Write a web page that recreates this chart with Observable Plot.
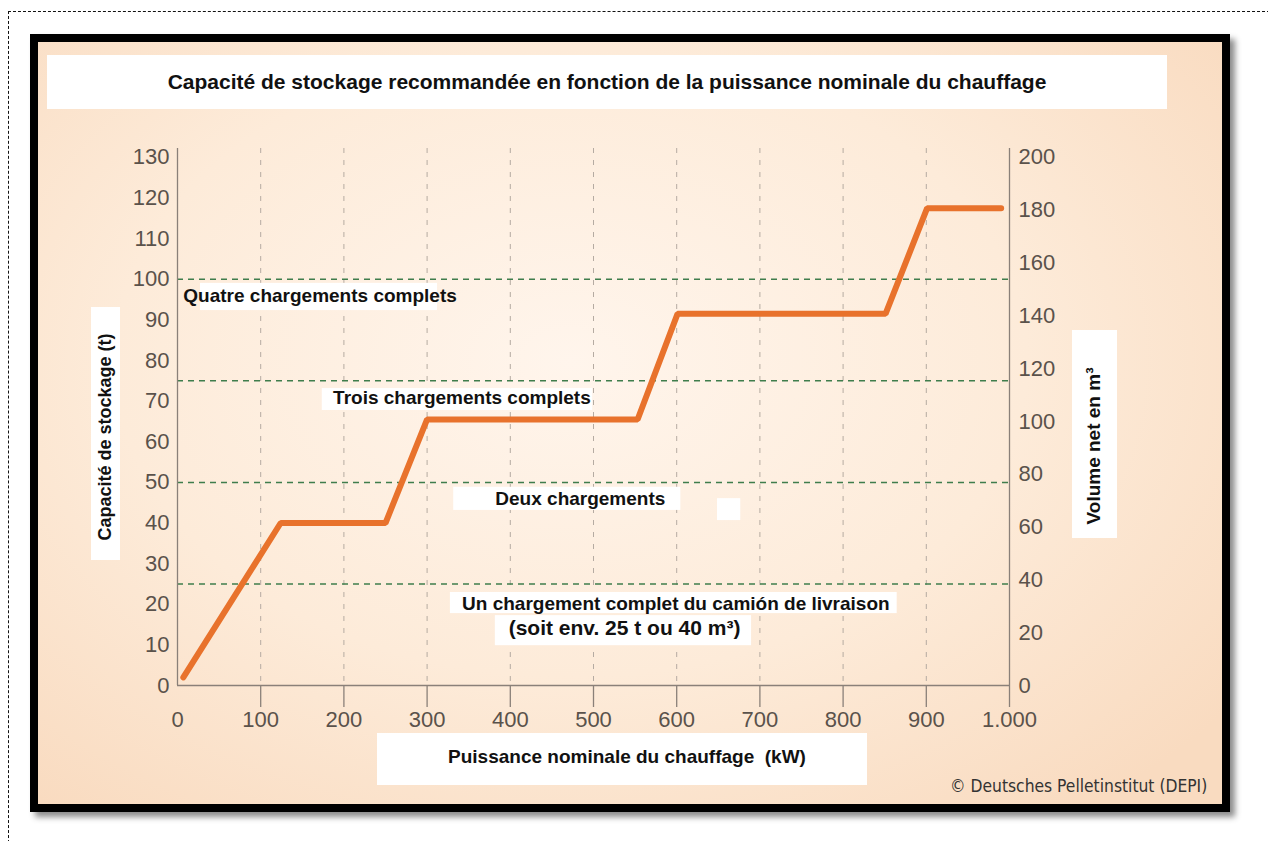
<!DOCTYPE html>
<html><head><meta charset="utf-8">
<script src="https://cdn.jsdelivr.net/npm/d3@7"></script>
<script src="https://cdn.jsdelivr.net/npm/@observablehq/plot@0.6"></script>
<style>
html,body{margin:0;padding:0;width:1268px;height:841px;overflow:hidden;background:#fff;font-family:"Liberation Sans",Arial,sans-serif;}
#dash{position:absolute;left:8px;top:11px;width:1290px;height:860px;border:1.5px dashed #111;}
#frame{position:absolute;left:30px;top:34px;width:1200px;height:778px;box-sizing:border-box;border:8px solid #000;
  background:radial-gradient(ellipse 70% 75% at 45% 42%, #fff5ec 0%, #fdebd9 55%, #f9dbc0 100%);
  box-shadow:5px 5px 6px rgba(0,0,0,0.45);}
.box{position:absolute;background:#fff;}
.btxt{position:absolute;font-weight:bold;color:#111;white-space:nowrap;line-height:22px;}
#chart{position:absolute;left:0;top:0;}
#copy{position:absolute;left:950px;top:776px;font-family:"DejaVu Sans",sans-serif;font-stretch:condensed;font-size:17.3px;color:#333;white-space:nowrap;}
</style></head>
<body>
<div id="dash"></div>
<div id="frame"></div>
<div class="box" style="left:47px;top:55px;width:1120px;height:54px;"></div>
<div class="btxt" id="title" style="left:47px;top:71px;width:1120px;text-align:center;font-size:21px;">Capacité de stockage recommandée en fonction de la puissance nominale du chauffage</div>
<div class="box" style="left:91px;top:307px;width:29px;height:253px;"></div>
<div class="btxt" style="left:-20px;top:426px;width:250px;text-align:center;font-size:18px;transform:rotate(-90deg);">Capacité de stockage (t)</div>
<div class="box" style="left:1072px;top:330px;width:45px;height:208px;"></div>
<div class="btxt" style="left:989px;top:435px;width:210px;text-align:center;font-size:19px;transform:rotate(-90deg);">Volume net en m³</div>
<div class="box" style="left:377px;top:733px;width:490px;height:52px;"></div>
<div class="btxt" style="left:377px;top:746px;width:500px;text-align:center;font-size:19px;">Puissance nominale du chauffage&nbsp; (kW)</div>
<div id="chart"></div>
<div id="copy">© Deutsches Pelletinstitut (DEPI)</div>
<script>
// Data
const kW = [7, 124, 250, 300, 553, 601, 851, 901, 990];
const tonnes = [2, 40, 40, 65.5, 65.5, 91.5, 91.5, 117.5, 117.5];
const loadLevels = [25, 50, 75, 100];
const xTicks = [0, 100, 200, 300, 400, 500, 600, 700, 800, 900, 1000];
const xTickLabels = ["0", "100", "200", "300", "400", "500", "600", "700", "800", "900", "1.000"];
const leftTicks = [0, 10, 20, 30, 40, 50, 60, 70, 80, 90, 100, 110, 120, 130];
const rightTicks = [0, 20, 40, 60, 80, 100, 120, 140, 160, 180, 200];
const leftMax = 130, rightMax = 200;
const labelTexts = ["Quatre chargements complets", "Trois chargements complets", "Deux chargements", "Un chargement complet du camión de livraison", "(soit env. 25 t ou 40 m³)"];
const labelX = [7, 187, 382, 342, 398];
const labelY = [95.8, 70.7, 46.0, 20.2, 14.0];
const labelSize = [19, 19, 19, 19, 21];
const boxX1 = [27.6, 174, 332, 328, 382, 649];
const boxX2 = [312.5, 499, 605, 865, 690, 677];
const boxY1 = [92.3, 67.7, 43.1, 17.7, 9.8, 40.6];
const boxY2 = [99.0, 73.1, 48.8, 22.9, 17.2, 46.0];

const series = kW.map((x, i) => ({x, y: tonnes[i]}));
const labels = labelTexts.map((t, i) => ({t, x: labelX[i], y: labelY[i], s: labelSize[i]}));
const boxes = boxX1.map((x1, i) => ({x1, x2: boxX2[i], y1: boxY1[i], y2: boxY2[i]}));
const tickFont = "'Liberation Sans', Arial, sans-serif";
const tickColor = "#5a524b";

const chart = Plot.plot({
  width: 1268, height: 841,
  marginLeft: 177, marginRight: 259, marginTop: 148, marginBottom: 156,
  style: {background: "transparent", overflow: "visible", fontFamily: tickFont},
  x: {domain: [0, 1000]},
  y: {domain: [0, 132.2]},
  marks: [
    Plot.ruleX(xTicks.filter(d => d > 0 && d < 1000), {stroke: "#b5aba2", strokeWidth: 1, strokeDasharray: "5,7"}),
    Plot.rect(boxes, {x1: "x1", x2: "x2", y1: "y1", y2: "y2", fill: "white"}),
    Plot.ruleY(loadLevels, {stroke: "#3f7d4c", strokeWidth: 1.5, strokeDasharray: "6,5"}),
    Plot.ruleX([0], {stroke: "#8a8079", strokeWidth: 1.3}),
    Plot.ruleX([1000], {stroke: "#8a8079", strokeWidth: 1.3}),
    Plot.ruleY([0], {stroke: "#8a8079", strokeWidth: 1.3}),
    Plot.axisX({ticks: xTicks.filter(d => d > 0), tickSize: 22, fill: "none", stroke: "#8a8079", strokeWidth: 1.3, label: null}),
    Plot.axisX({ticks: xTicks, tickSize: 0, tickPadding: 26, tickFormat: d => xTickLabels[xTicks.indexOf(d)], fontSize: 22, fill: tickColor, label: null}),
    Plot.axisY({anchor: "left", ticks: leftTicks, tickSize: 0, tickPadding: 8, fontSize: 22, fill: tickColor, label: null}),
    Plot.axisY({anchor: "right", ticks: rightTicks.map(v => v * leftMax / rightMax), tickSize: 0, tickPadding: 9, tickFormat: d => String(Math.round(d * rightMax / leftMax)), fontSize: 22, fill: tickColor, label: null}),
    Plot.text(labels, {x: "x", y: "y", text: "t", fontSize: "s", textAnchor: "start", lineAnchor: "middle", fontWeight: "bold", fill: "#111", fontFamily: "'Liberation Sans', Arial, sans-serif"}),
    Plot.line(series, {x: "x", y: "y", stroke: "#e8722c", strokeWidth: 6, strokeLinecap: "round", strokeLinejoin: "miter"})
  ]
});
document.getElementById("chart").appendChild(chart);
</script>
</body></html>
